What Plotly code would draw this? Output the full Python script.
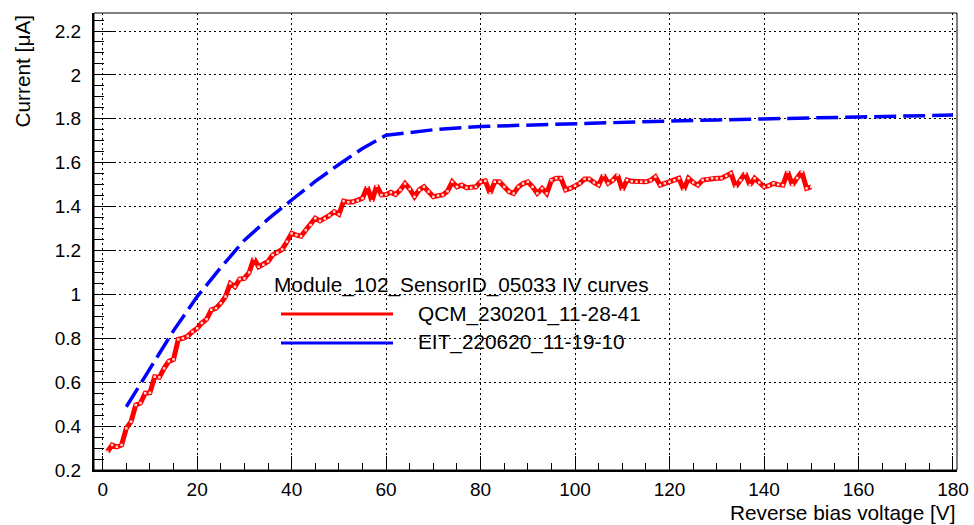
import plotly.graph_objects as go

# ---- data ----
qcm_voltage = list(range(1, 151))
qcm_current = [
    0.283, 0.314, 0.306, 0.314, 0.390, 0.420, 0.496, 0.505, 0.550, 0.552,
    0.625, 0.622, 0.663, 0.695, 0.704, 0.795, 0.800, 0.810, 0.830, 0.845,
    0.870, 0.887, 0.930, 0.937, 0.960, 0.990, 1.050, 1.035, 1.070, 1.073,
    1.100, 1.164, 1.126, 1.135, 1.150, 1.180, 1.190, 1.205, 1.240, 1.278,
    1.270, 1.265, 1.293, 1.316, 1.347, 1.335, 1.345, 1.360, 1.377, 1.365,
    1.425, 1.420, 1.422, 1.428, 1.438, 1.490, 1.425, 1.495, 1.453, 1.455,
    1.465, 1.455, 1.476, 1.505, 1.480, 1.445, 1.476, 1.490, 1.468, 1.445,
    1.450, 1.453, 1.470, 1.513, 1.490, 1.498, 1.486, 1.486, 1.490, 1.513,
    1.517, 1.460, 1.513, 1.513, 1.490, 1.468, 1.460, 1.490, 1.505, 1.513,
    1.490, 1.460, 1.483, 1.460, 1.520, 1.529, 1.529, 1.476, 1.483, 1.495,
    1.506, 1.526, 1.526, 1.510, 1.498, 1.544, 1.506, 1.520, 1.544, 1.476,
    1.521, 1.515, 1.513, 1.513, 1.513, 1.520, 1.536, 1.498, 1.506, 1.513,
    1.520, 1.529, 1.476, 1.529, 1.510, 1.498, 1.521, 1.525, 1.529, 1.529,
    1.529, 1.540, 1.552, 1.490, 1.520, 1.552, 1.498, 1.529, 1.510, 1.490,
    1.495, 1.506, 1.500, 1.498, 1.559, 1.498, 1.530, 1.559, 1.483, 1.490,
]

eit_voltage = [5, 10, 15, 20, 25, 30, 35, 40, 45, 50, 55, 60,
               70, 80, 90, 100, 110, 120, 130, 140, 150, 160, 170, 180]
eit_current = [0.488, 0.665, 0.835, 0.990, 1.122, 1.247, 1.343, 1.430, 1.515, 1.592, 1.665, 1.725,
               1.750, 1.765, 1.772, 1.777, 1.783, 1.790, 1.795, 1.800, 1.805, 1.808, 1.812, 1.817]

legend_title = "Module_102_SensorID_05033 IV curves"
name_qcm = "QCM_230201_11-28-41"
name_eit = "EIT_220620_11-19-10"
x_title = "Reverse bias voltage [V]"
y_title = "Current [\u03bcA]"

FONT = "Liberation Sans, Arial, Helvetica, sans-serif"
TEXT_SIZE = 20.8
TICK_SIZE = 19

fig = go.Figure()
fig.add_trace(go.Scatter(
    x=qcm_voltage, y=qcm_current, mode="lines+markers", name=name_qcm,
    line=dict(color="rgb(255,0,0)", width=5),
    marker=dict(symbol="square", size=2.5, color="rgb(255,215,215)", line=dict(width=0)),
    showlegend=False,
))
fig.add_trace(go.Scatter(
    x=eit_voltage, y=eit_current, mode="lines", name=name_eit,
    line=dict(color="rgb(0,0,255)", width=3.5, dash="22px,7px"),
    showlegend=False,
))

# plot area in pixels: left 94, right 957, top 13, bottom 470
L, R, T, B = 94, 957, 13, 470
W, H = R - L, B - T
def px(x):
    return (x - L) / W
def py(y):
    return (B - y) / H

shapes = [
    dict(type="rect", xref="paper", yref="paper", x0=px(268), x1=px(655), y0=py(357), y1=py(263),
         fillcolor="white", line=dict(width=0), layer="between"),
    dict(type="line", xref="paper", yref="paper", x0=px(281), x1=px(393), y0=py(314), y1=py(314),
         line=dict(color="rgb(255,0,0)", width=3)),
    dict(type="line", xref="paper", yref="paper", x0=px(281), x1=px(393), y0=py(343), y1=py(343),
         line=dict(color="rgb(0,0,255)", width=3)),
    dict(type="rect", xref="paper", yref="paper", x0=0, x1=1, y0=0, y1=1,
         line=dict(color="black", width=1), layer="above"),
]

tfont = dict(size=TEXT_SIZE, color="black", family=FONT)
annotations = [
    dict(text=legend_title, xref="paper", yref="paper", x=px(272), y=py(285),
         xanchor="left", yanchor="middle", showarrow=False, font=tfont),
    dict(text=name_qcm, xref="paper", yref="paper", x=px(416), y=py(314),
         xanchor="left", yanchor="middle", showarrow=False, font=tfont),
    dict(text=name_eit, xref="paper", yref="paper", x=px(416), y=py(342),
         xanchor="left", yanchor="middle", showarrow=False, font=tfont),
    dict(text=x_title, xref="paper", yref="paper", x=px(957), y=py(512),
         xanchor="right", yanchor="middle", showarrow=False, font=tfont),
    dict(text=y_title, xref="paper", yref="paper", x=px(22), y=py(13),
         xanchor="center", yanchor="top", textangle=-90, showarrow=False, font=tfont),
]

fig.update_layout(
    width=974, height=525,
    margin=dict(l=L, r=974 - R, t=T, b=525 - B, pad=0, autoexpand=False),
    paper_bgcolor="white", plot_bgcolor="white",
    font=dict(family=FONT, size=TICK_SIZE, color="black"),
    shapes=shapes, annotations=annotations,
    showlegend=False,
)
fig.update_xaxes(
    range=[-1.84, 180.85], dtick=20, tick0=0,
    showline=True, linecolor="black", linewidth=2,
    ticks="inside", ticklen=14, tickwidth=1, tickcolor="black",
    minor=dict(dtick=5, ticks="inside", ticklen=7, tickcolor="black", showgrid=False),
    showgrid=True, gridcolor="black", gridwidth=1, griddash="2px,3px",
    zeroline=False, ticklabelstandoff=1,
    tickfont=dict(size=TICK_SIZE, family=FONT),
)
fig.update_yaxes(
    range=[0.2, 2.282], dtick=0.2, tick0=0,
    showline=True, linecolor="black", linewidth=2,
    ticks="inside", ticklen=20, tickwidth=1, tickcolor="black",
    minor=dict(dtick=0.05, ticks="inside", ticklen=10, tickcolor="black", showgrid=False),
    showgrid=True, gridcolor="black", gridwidth=1, griddash="2px,3px",
    zeroline=False, ticklabelstandoff=7,
    tickfont=dict(size=TICK_SIZE, family=FONT),
)

fig.write_html("out.html", config={"displayModeBar": False},
               post_script="document.body.style.margin='0px';document.body.style.overflow='hidden';")
